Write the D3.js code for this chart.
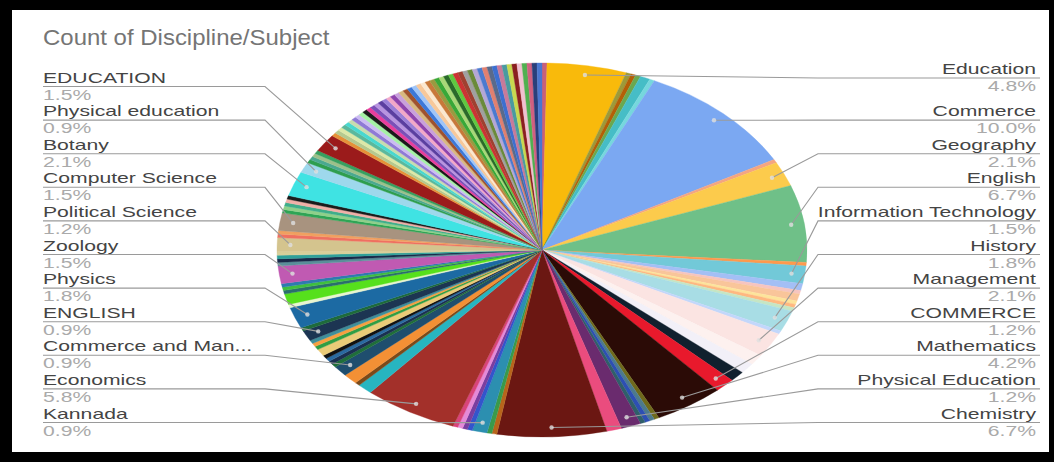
<!DOCTYPE html>
<html><head><meta charset="utf-8">
<script src="https://cdn.jsdelivr.net/npm/d3@7"></script>
<style>html,body{margin:0;padding:0;background:#000}svg{display:block}</style>
</head><body>
<svg id="chart" width="1054" height="462"></svg>
<script>
// ---- data (clockwise from 12 o'clock); "" = unlabelled small category ----
const categories = [
 "", "Education", "", "", "", "", "", "Commerce", "", "Geography", "English", "", "Information Technology",
 "", "", "", "", "", "", "History", "", "Management", "", "", "", "COMMERCE", "Mathematics",
 "", "", "", "", "Physical Education", "", "Chemistry", "", "", "Kannada", "", "", "", "", "Economics",
 "", "", "", "Commerce and Man...", "", "", "", "", "", "", "", "", "ENGLISH", "", "Physics",
 "", "", "", "", "", "Zoology", "", "", "", "", "Political Science", "", "", "Computer Science",
 "", "", "", "", "", "Botany", "Physical education", "", "", "", "", "EDUCATION",
 "", "", "", "", "", "", "", "", "", "", "", "", "", "", "", "", "", "", "", "", "", "", "", "",
 "", "", "", "", "", "", "", "", "", "", "", "", "", "", "", "", "", "", "", "", "", "", "", ""
];
const counts = [
 1, 16, 1, 1, 1, 2, 1, 33, 1, 7, 22, 1, 5,
 2, 1, 2, 1, 1, 1, 6, 1, 7, 3, 3, 3, 4, 14,
 1, 1, 1, 1, 4, 3, 22, 1, 1, 3, 1, 1, 1, 1, 19,
 3, 1, 3, 3, 1, 1, 1, 1, 2, 1, 1, 1, 3, 1, 6,
 1, 3, 1, 1, 1, 5, 1, 1, 1, 1, 4, 1, 1, 5,
 1, 1, 1, 1, 1, 7, 3, 1, 1, 1, 1, 5,
 1, 1, 1, 1, 1, 1, 1, 1, 1, 1, 1, 1, 1, 1, 1, 1, 1, 1, 1, 1, 1, 1, 1, 1,
 1, 1, 1, 1, 1, 1, 1, 1, 1, 1, 1, 1, 1, 1, 1, 1, 1, 1, 1, 1, 1, 1, 1, 1
];
const sliceColors = [
 "#c8607a", "#f9ba0b", "#9c9a3a", "#b45f06", "#6aa84f", "#46bdc6", "#76d7dd", "#7ba8f2", "#f4a582", "#fccb4c", "#6fc088", "#ff994d", "#72c9d8",
 "#a3bff5", "#f6c5c0", "#f9c59a", "#fde49b", "#ffb880", "#c6e6c4", "#a8dde5", "#c2d7fb", "#fbe4e2", "#fdf1ef", "#f2f0f8", "#10202e", "#e8192c", "#2b0b06",
 "#6f6a1c", "#4d7a8c", "#2d4fb3", "#2f5f6a", "#6a2b6e", "#ea4c7e", "#6b1712", "#b8651b", "#3a9a4a", "#2c8fb0", "#3355cc", "#7a3ea0", "#e58ad8", "#d9447a", "#a3302a",
 "#27b5c0", "#7a4a1a", "#f39035", "#1f4e6e", "#1f6e3a", "#1a3050", "#2a6aa0", "#111111", "#eacb78", "#2f9e44", "#f7a040", "#3e8e9a", "#1c3552", "#1e6b3b", "#1c6aa3",
 "#e8f5d0", "#56e01c", "#2b6e6e", "#3fbf3f", "#2e7bb0", "#c05ab2", "#5a8f9a", "#1a2a4a", "#2fa09a", "#d9cf9a", "#d4c48e", "#ef7060", "#f0a060", "#a8937f",
 "#2fa455", "#8fd08a", "#3fae8a", "#f0b0a8", "#1b1b1b", "#3fe3e3", "#9ed8ec", "#2e9e4e", "#4aa890", "#9cc08a", "#38a060", "#9b1b1b",
 "#e69138", "#b5c98f", "#dce8a8", "#5bb89c", "#48d8d0", "#c8dcb0", "#8f7ad6", "#cbbcf2", "#a4f0a4", "#1a1a1a", "#e83e9c", "#7a50b8", "#b894e0", "#5b3fa0", "#9a7fd8", "#f2a8c8", "#8e44ad", "#c9a0dc", "#d8b880", "#a0522d", "#3c78d8", "#9fc5f8", "#f7c89a", "#fbe8d0",
 "#c8783a", "#9a9a40", "#38a838", "#a8d878", "#2a6a2a", "#60c840", "#cc3333", "#a04030", "#a0a0a0", "#6a8a3a", "#b4a7d6", "#4a7ad0", "#e08070", "#5a6a8a", "#3d6fd0", "#c87a9a", "#4a9aa0", "#c8d850", "#8a2020", "#f0c0d0", "#50b050", "#d06080", "#2a3f7a", "#4a76d0"
];
const chartTitle = "Count of Discipline/Subject";

// ---- layout ----
const svg = d3.select("#chart");
const W = 1054, H = 462;
svg.append("rect").attr("x", 0).attr("y", 0).attr("width", W).attr("height", H).attr("fill", "#000");
svg.append("rect").attr("x", 12).attr("y", 10).attr("width", 1037).attr("height", 442).attr("fill", "#fff");

const cx = 542, cy = 250, R = 187, sx = 265 / 187;
const total = d3.sum(counts);
const fmt = d3.format(".1%");

const data = counts.map((v, i) => ({name: categories[i], value: v, color: sliceColors[i]}));
const pie = d3.pie().sort(null).value(d => d.value);
const arcs = pie(data);
const arc = d3.arc().innerRadius(0).outerRadius(R);
const dotArc = d3.arc().innerRadius(R * 0.95).outerRadius(R * 0.95);

const gPie = svg.append("g").attr("transform", `translate(${cx},${cy}) scale(${sx},1)`);
gPie.selectAll("path").data(arcs).join("path")
  .attr("d", arc).attr("fill", d => d.data.color)
  .attr("stroke", d => d.data.color).attr("stroke-width", 0.3);

// title
svg.append("text").attr("transform", "translate(43,45) scale(1.09,1)")
  .attr("font-family", "'Liberation Sans', Arial, sans-serif").attr("font-size", 22)
  .attr("fill", "#757575").text(chartTitle);

// labels
const labelled = arcs.filter(d => d.data.name !== "").map(d => {
  const c = dotArc.centroid(d);
  const mid = (d.startAngle + d.endAngle) / 2;
  return {d, mid, dx: cx + c[0] * sx, dy: cy + c[1], right: mid < Math.PI};
});
const bottomY = 422.5, gap = 33.6;
function layout(list) {
  for (let i = list.length - 1; i >= 0; i--) {
    const want = list[i].dy + 3;
    const lim = i === list.length - 1 ? bottomY : list[i + 1].ly - gap;
    list[i].ly = Math.min(want, lim);
  }
}
const rightL = labelled.filter(l => l.right).sort((a, b) => a.mid - b.mid);
const leftL = labelled.filter(l => !l.right).sort((a, b) => b.mid - a.mid);
layout(rightL); layout(leftL);

const gLab = svg.append("g");
const font = "'Liberation Sans', Arial, sans-serif";
function drawSide(list, right) {
  list.forEach(l => {
    const x0 = right ? 1040 : 43, xb = right ? 818 : 265;
    gLab.append("path")
      .attr("d", `M${x0},${l.ly}L${xb},${l.ly}L${l.dx},${l.dy}`)
      .attr("fill", "none").attr("stroke", "#9a9a9a").attr("stroke-width", 1.1);
    gLab.append("circle").attr("cx", l.dx).attr("cy", l.dy).attr("r", 2.2)
      .attr("fill", "#e0e0e0").attr("fill-opacity", 0.8);
    const tx = right ? 1036 : 43;
    gLab.append("text").attr("transform", `translate(${tx},${l.ly - 4}) scale(1.41,1)`)
      .attr("text-anchor", right ? "end" : "start")
      .attr("font-family", font).attr("font-size", 15).attr("fill", "#444")
      .text(l.d.data.name);
    gLab.append("text").attr("transform", `translate(${tx},${l.ly + 13}) scale(1.41,1)`)
      .attr("text-anchor", right ? "end" : "start")
      .attr("font-family", font).attr("font-size", 15).attr("fill", "#aaa")
      .text(fmt(l.d.data.value / total));
  });
}
drawSide(rightL, true);
drawSide(leftL, false);
</script>
</body></html>
